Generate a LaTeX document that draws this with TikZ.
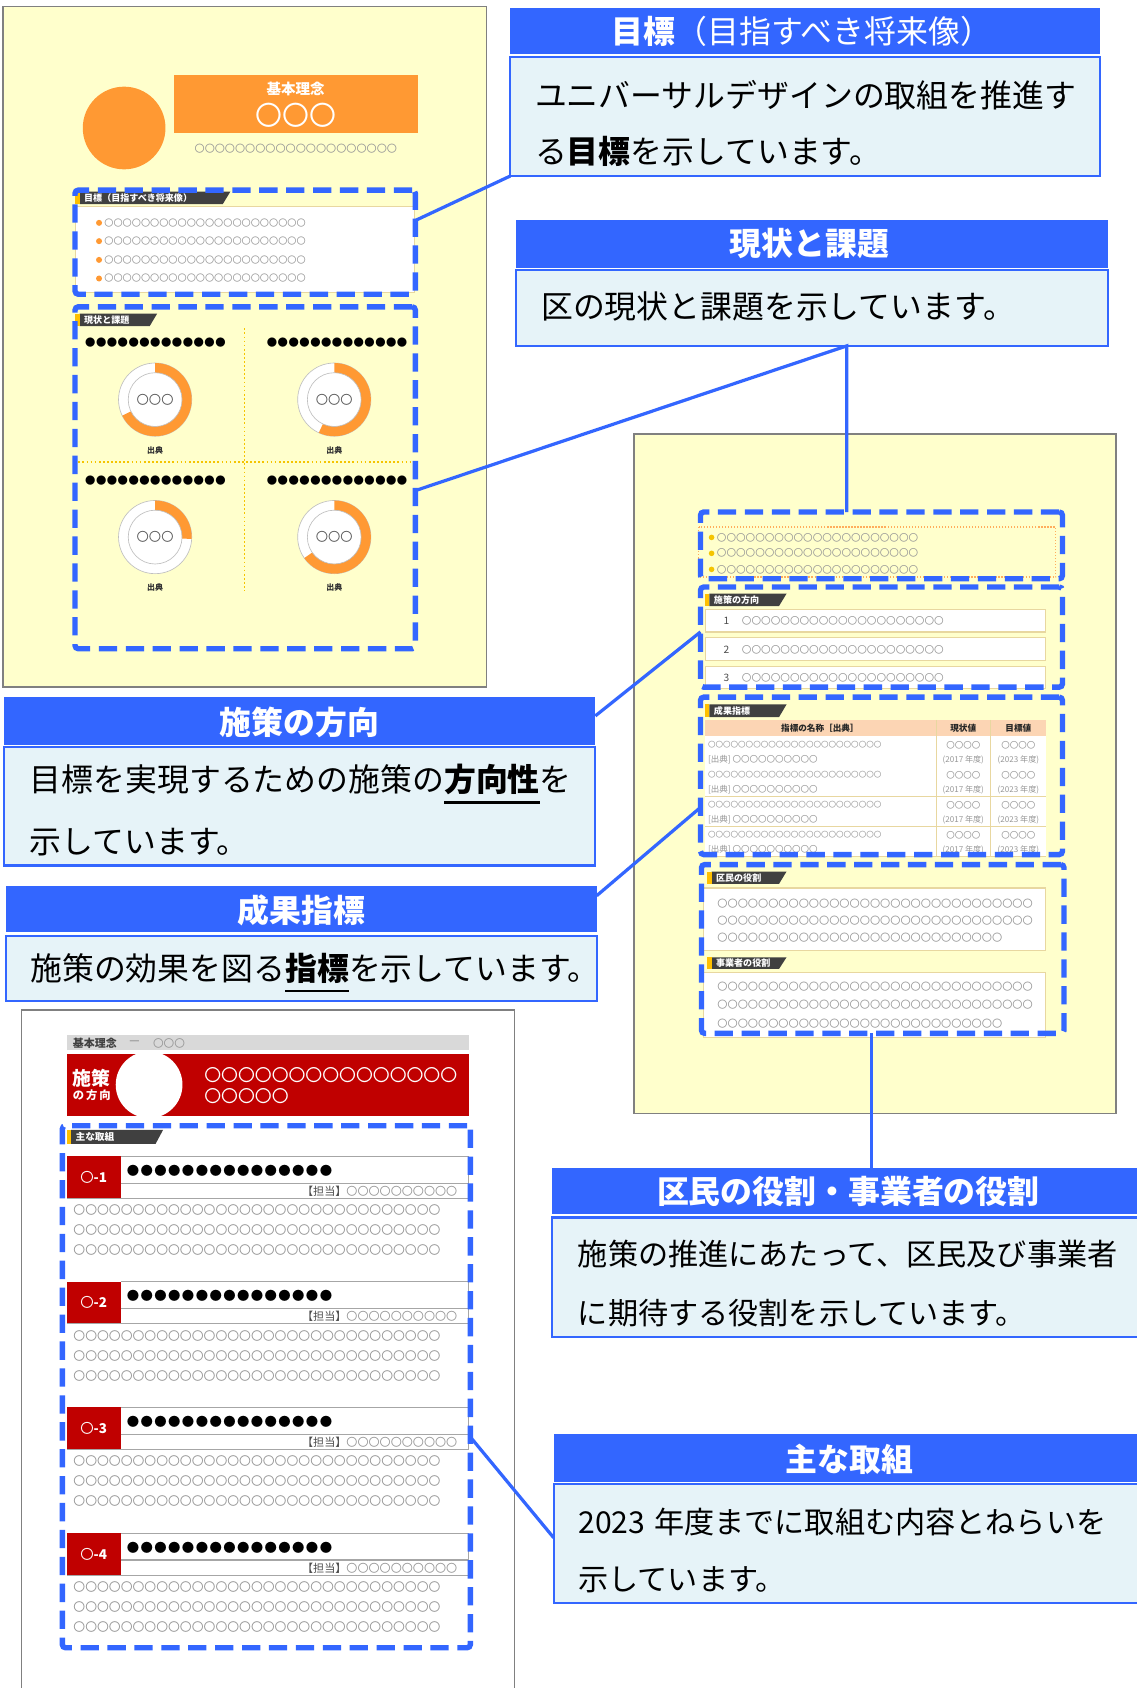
\documentclass[tikz,border=0pt]{standalone}
\usepackage{fontspec}
\setmainfont{Noto Sans CJK JP}
\usetikzlibrary{calc}
\definecolor{myblue}{RGB}{51,102,255}
\definecolor{bodyblue}{RGB}{230,243,248}
\definecolor{pageyel}{RGB}{255,255,204}
\definecolor{pagegray}{RGB}{128,128,128}
\definecolor{myorange}{RGB}{255,153,51}
\definecolor{myred}{RGB}{192,0,0}
\definecolor{tabdark}{RGB}{64,64,64}
\definecolor{tabyel}{RGB}{255,192,0}
\definecolor{tanline}{RGB}{232,215,160}
\definecolor{peach}{RGB}{252,213,180}
\definecolor{circgray}{RGB}{150,150,150}
\definecolor{bargray}{RGB}{217,217,217}
\definecolor{dotyel}{RGB}{245,196,0}
\newcount\myc
\newcommand\myrep[2]{\myc=#1\relax\loop\ifnum\myc>0 #2\advance\myc by -1\repeat}
\newcommand\fsz[1]{\fontsize{#1}{#1}\selectfont}
\newcommand\myul[1]{\setbox0\hbox{#1}\rlap{\rule[-11pt]{\wd0}{2pt}}\box0}
\newcommand\dotrow[3]{\myrep{#1}{\makebox[#2pt]{\fsz{#3}●}}}
\tikzset{
  rbox/.style={rectangle, inner sep=0, outer sep=0},
  pagebox/.style={rbox, fill=pageyel, draw=pagegray, line width=1.5},
  whitepage/.style={rbox, fill=white, draw=pagegray, line width=1.5},
  orangebox/.style={rbox, fill=myorange},
  dbox/.style={rbox, draw=myblue, line width=5, dash pattern=on 17pt off 8pt, rounded corners=3},
  hdr/.style={rbox, fill=myblue},
  bodybox/.style={rbox, fill=bodyblue, draw=myblue, line width=2},
  conn/.style={draw=myblue, line width=3},
  hdrtxt/.style={text=white, font=\fsz{29.6}\bfseries, inner sep=0},
  bodytxt/.style={text=black, font=\fsz{29.6}, inner sep=0, anchor=west},
  tabtxt/.style={text=white, font=\fsz{8.4}\bfseries, inner sep=0, anchor=west},
  circs/.style={text=circgray, inner sep=0, anchor=west},
  whitebox/.style={rbox, fill=white, draw=tanline, line width=1.2},
  dotline/.style={draw=dotyel, line width=1.6, dash pattern=on 1.6pt off 2.2pt},
}
\newcommand\bx[6]{\node[#2, minimum width={(#5)-(#3)}, minimum height={(#6)-(#4)}, anchor=north west] (#1) at (#3,#4) {};}
\newcommand\tabl[6]{%
  \fill[tabdark] ({#2+4},#3) -- (#4,#3) -- ({#4-7},#5) -- ({#2+4},#5) -- cycle;
  \fill[tabyel] (#2,#3) rectangle ({#2+4},#5);
  \node[tabtxt] (#1) at ({#2+8},{(#3+#5)/2}) {#6};}
\newcommand\donut[4]{%
  \coordinate (#1) at (#2,#3);
  \fill[white, draw=gray!50, line width=0.6] (#1) circle[radius=34];
  \fill[myorange] ($(#1)+(-90:34)$) arc[start angle=-90, end angle={-90+#4}, radius=34]
     -- ($(#1)+({-90+#4}:25)$) arc[start angle={-90+#4}, end angle=-90, radius=25] -- cycle;
  \draw[gray!50, line width=0.6] (#1) circle[radius=25];
  \node[text=black!65, font=\fsz{11.4}, inner sep=0] (#1t) at (#1) {〇〇〇};
  \node[text=black!80, font=\fsz{7.4}\bfseries, inner sep=0] (#1s) at (#2,{#3+47}) {出典};}
\begin{document}
\begin{tikzpicture}[x=1pt,y=-1pt]
\useasboundingbox (0,0) rectangle (1056,1568);
\clip (0,0) rectangle (1056,1568);
\fill[white] (0,0) rectangle (1056,1568);

% ===== top-left page =====
\bx{p1}{pagebox}{3}{6}{452}{638}
\node[circle, fill=myorange, minimum size=76.8, inner sep=0] (oc) at (115.3,118.9) {};
\bx{ko}{orangebox}{161.4}{70}{387.9}{123.6}
\node[text=white, font=\fsz{13.5}\bfseries, inner sep=0] (kt) at (274.6,83) {基本理念};
\node[text=white, font=\fsz{25}, inner sep=0] (kc) at (274.6,107.5) {〇〇〇};
\node[circs, font=\fsz{9.4}] (kl) at (180.6,137.9) {\myrep{20}{〇}};

\bx{w1}{whitebox}{70}{192}{385}{271.5}
\tabl{t1}{70}{178}{214}{189.5}{目標（目指すべき将来像）}
\foreach \yy [count=\i] in {207,224,241.4,258.7}{
  \fill[myorange] (92,\yy) circle[radius=2.8];
  \node[circs, font=\fsz{8.5}] (g\i) at (96.8,\yy) {\myrep{22}{〇}};
}
\bx{d1}{dbox}{69.7}{176.6}{385.8}{273.3}

\tabl{t2}{70}{291.3}{146}{303}{現状と課題}
\draw[dotline] (227.1,305) -- (227.1,548.4);
\draw[dotline] (69,429.2) -- (387,429.2);
\node[inner sep=0, anchor=west] (k1) at (78.7,318.2) {\dotrow{13}{10.07}{9.6}};
\node[inner sep=0, anchor=west] (k2) at (247.5,318.2) {\dotrow{13}{10.07}{9.6}};
\node[inner sep=0, anchor=west] (k3) at (78.7,446.2) {\dotrow{13}{10.07}{9.6}};
\node[inner sep=0, anchor=west] (k4) at (247.5,446.2) {\dotrow{13}{10.07}{9.6}};
\donut{dn1}{144.1}{371.2}{244}
\donut{dn2}{310.5}{371.2}{205}
\donut{dn3}{144.1}{498.9}{93}
\donut{dn4}{310.5}{498.9}{235}
\bx{d2}{dbox}{69.7}{285}{385.8}{602.6}

% ===== top-right boxes =====
\bx{h1}{hdr}{474}{7}{1022}{50.5}
\bx{b1}{bodybox}{474}{53}{1022}{163.5}
\node[hdrtxt] (h1t) at (745,29) {目標{\mdseries（目指すべき将来像）}};
\node[bodytxt] (b1a) at (496.8,88.3) {ユニバーサルデザインの取組を推進す};
\node[bodytxt] (b1b) at (496.8,141) {る\textbf{目標}を示しています。};

\bx{h2}{hdr}{479}{204.5}{1029}{248.8}
\bx{b2}{bodybox}{479}{251}{1029}{321.3}
\node[hdrtxt] (h2t) at (752,226.2) {現状と課題};
\node[bodytxt] (b2a) at (502.5,285) {区の現状と課題を示しています。};

% ===== right page =====
\bx{p2}{pagebox}{588.7}{403.4}{1036.4}{1034.3}
\draw[draw=myorange!80, line width=1.2, dash pattern=on 1.2pt off 1.6pt] (649,489.6) rectangle (980.7,536);
\foreach \yy [count=\i] in {499.2,514,528.9}{
  \fill[dotyel] (661,\yy) circle[radius=2.6];
  \node[circs, font=\fsz{8.9}] (ra\i) at (665.8,\yy) {\myrep{21}{〇}};
}
\bx{dA}{dbox}{650.7}{475.6}{986.9}{537.6}

\tabl{t3}{655}{551.5}{730.6}{563}{施策の方向}
\foreach \yy/\nn in {566/1,592.4/2,618.8/3}{
  \bx{rw\nn}{whitebox}{655.3}{\yy}{971.4}{\yy+21}
  \node[text=black!70, font=\fsz{9.5}, inner sep=0] (rn\nn) at (674.8,\yy+11) {\nn};
  \node[circs, font=\fsz{8.93}] (rc\nn) at (689,\yy+11) {\myrep{21}{〇}};
}
\bx{dB}{dbox}{650.7}{545.3}{986.9}{638.3}

\tabl{t4}{655}{654.4}{730.6}{666.2}{成果指標}
\bx{th}{rbox}{655.3}{668.6}{971.4}{684.1}
\fill[peach] (655.3,668.6) rectangle (971.4,684.1);
\node[font=\fsz{8}\bfseries, text=black!85, inner sep=0] (th1) at (761.6,676.4) {指標の名称［出典］};
\node[font=\fsz{8}\bfseries, text=black!85, inner sep=0] (th2) at (894.8,676.4) {現状値};
\node[font=\fsz{8}\bfseries, text=black!85, inner sep=0] (th3) at (946,676.4) {目標値};
\foreach \r [count=\i] in {684.1,712,739.9,767.8}{
  \fill[white] (655.3,\r) rectangle (971.4,\r+27.9);
  \draw[tanline, line width=0.8] (655.3,\r+27.9) -- (971.4,\r+27.9);
  \node[circs, font=\fsz{7}] (tra\i) at (657.5,\r+7.8) {\myrep{23}{〇}};
  \node[circs, font=\fsz{7.9}] (trb\i) at (657.5,\r+21.4) {[出典] \myrep{10}{〇}};
  \node[text=circgray, font=\fsz{7.9}, inner sep=0] (trc\i) at (894.8,\r+7.8) {〇〇〇〇};
  \node[text=circgray, font=\fsz{7.5}, inner sep=0] (trd\i) at (894.8,\r+21.4) {(2017 年度)};
  \node[text=circgray, font=\fsz{7.9}, inner sep=0] (tre\i) at (946,\r+7.8) {〇〇〇〇};
  \node[text=circgray, font=\fsz{7.5}, inner sep=0] (trf\i) at (946,\r+21.4) {(2023 年度)};
}
\draw[tanline, line width=0.8] (870,668.6) -- (870,795.7) (920.3,668.6) -- (920.3,795.7);
\bx{dC}{dbox}{650.7}{647.6}{986.9}{793.8}

\tabl{t5}{657}{809.6}{730.6}{821.1}{区民の役割}
\bx{wk}{whitebox}{653.2}{824.8}{971.4}{883.1}
\node[circs, font=\fsz{9.45}] (wk1) at (666.2,839.7) {\myrep{31}{〇}};
\node[circs, font=\fsz{9.45}] (wk2) at (666.2,855.5) {\myrep{31}{〇}};
\node[circs, font=\fsz{9.45}] (wk3) at (666.2,871.3) {\myrep{28}{〇}};
\tabl{t6}{657}{889.3}{730.6}{900.1}{事業者の役割}
\bx{wj}{whitebox}{653.2}{903.2}{971.4}{963.6}
\node[circs, font=\fsz{9.45}] (wj1) at (666.2,916.5) {\myrep{31}{〇}};
\node[circs, font=\fsz{9.45}] (wj2) at (666.2,933.5) {\myrep{31}{〇}};
\node[circs, font=\fsz{9.45}] (wj3) at (666.2,950.6) {\myrep{28}{〇}};
\bx{dD}{dbox}{651.6}{803.1}{988.4}{959.9}

% ===== left boxes =====
\bx{h4}{hdr}{3.7}{647.6}{553}{691.6}
\bx{b4}{bodybox}{3.7}{694}{553}{804}
\node[hdrtxt] (h4t) at (278.3,670.8) {施策の方向};
\node[bodytxt] (b4a) at (27.6,728.2) {目標を実現するための施策の\myul{\textbf{方向性}}を};
\node[bodytxt] (b4b) at (27.6,782.4) {示しています。};

\bx{h5}{hdr}{5.5}{822.7}{554.3}{866}
\bx{b5}{bodybox}{5.5}{869.1}{554.3}{929.5}
\node[hdrtxt] (h5t) at (280,845.9) {成果指標};
\node[bodytxt] (b5a) at (28,903.2) {施策の効果を図る\myul{\textbf{指標}}を示しています。};

% ===== bottom-left page =====
\bx{p3}{whitepage}{20.1}{938}{477.8}{1590}
\fill[bargray] (62,961) rectangle (436,975.4);
\node[font=\fsz{10.2}\bfseries, text=black!75, inner sep=0, anchor=west] (bt1) at (67.6,968.9) {基本理念};
\node[font=\fsz{10}, text=black!75, inner sep=0] (bt2) at (125,968.9) {―};
\node[circs, font=\fsz{9.9}] (bt3) at (142,968.9) {〇〇〇};
\bx{rb}{rbox}{62}{979}{436}{1036.5}
\fill[myred] (62,979) rectangle (436,1036.5);
\begin{scope}
  \clip (62,979) rectangle (436,1036.5);
  \fill[white] (138.5,1007.6) circle[radius=31];
\end{scope}
\node[font=\fsz{17.5}\bfseries, text=white, inner sep=0, anchor=west] (rt1) at (67.5,1001.5) {施策};
\node[font=\fsz{10.5}\bfseries, text=white, inner sep=0, anchor=west] (rt2) at (67.5,1017.5) {の\,方\,向};
\node[font=\fsz{15.66}, text=white, inner sep=0, anchor=west] (rt3) at (189.6,998.6) {\myrep{15}{〇}};
\node[font=\fsz{15.66}, text=white, inner sep=0, anchor=west] (rt4) at (189.6,1018.5) {\myrep{5}{〇}};

\tabl{t7}{62}{1049.5}{151.5}{1062.6}{\fsz{9}主な取組}
\foreach \T [count=\i] in {1074,1190.7,1307.4,1424.1}{
  \fill[myred] (62,\T) rectangle (112,\T+39);
  \node[font=\fsz{12.5}\bfseries, text=white, inner sep=0] (it\i) at (87,\T+19.5) {{\mdseries 〇}-\i};
  \draw[gray!70, line width=1] (112,\T) -- (435,\T) -- (435,\T+39) -- (62,\T+39) (112,\T+25) -- (435,\T+25);
  \node[inner sep=0, anchor=west] (id\i) at (117,\T+13.3) {\dotrow{15}{12.8}{11.5}};
  \node[circs, font=\fsz{10.3}, anchor=east] (ic\i) at (425,\T+32.4) {\textcolor{black!70}{【担当】}\myrep{10}{〇}};
  \node[circs, font=\fsz{11}] (ia\i) at (68,\T+50) {\myrep{31}{〇}};
  \node[circs, font=\fsz{11}] (ib\i) at (68,\T+68.7) {\myrep{31}{〇}};
  \node[circs, font=\fsz{11}] (ie\i) at (68,\T+87.3) {\myrep{31}{〇}};
}
\bx{dE}{dbox}{57.9}{1045.7}{436.9}{1530.6}

% ===== bottom-right boxes =====
\bx{h3}{hdr}{513}{1084.5}{1063}{1127.9}
\bx{b3}{bodybox}{513}{1131}{1063}{1241.6}
\node[hdrtxt] (h3t) at (788,1106.8) {区民の役割・事業者の役割};
\node[bodytxt, font=\fsz{28}] (b3a) at (536.6,1165) {施策の推進にあたって、区民及び事業者};
\node[bodytxt, font=\fsz{28}] (b3b) at (536.6,1219.3) {に期待する役割を示しています。};

\bx{h6}{hdr}{514.3}{1332.3}{1063}{1376.3}
\bx{b6}{bodybox}{514.3}{1378.8}{1063}{1488.8}
\node[hdrtxt] (h6t) at (789,1355.6) {主な取組};
\node[bodytxt, font=\fsz{28}] (b6a) at (537,1413.5) {2023\hspace{0.3em}年度までに取組む内容とねらいを};
\node[bodytxt, font=\fsz{28}] (b6b) at (537,1467.1) {示しています。};

% ===== connectors =====
\coordinate (c1) at (386.5,204.5);
\draw[conn] (c1) -- (b1.south west);
\coordinate (c2) at (386.5,455.5);
\coordinate (c2b) at (786.5,321.3);
\coordinate (c2c) at (786.5,475.6);
\draw[conn] (c2) -- (c2b) -- (c2c);
\coordinate (c3) at (553,665);
\coordinate (c3b) at (650.7,587);
\draw[conn] (c3) -- (c3b);
\coordinate (c4) at (554.3,832);
\coordinate (c4b) at (650.7,750);
\draw[conn] (c4) -- (c4b);
\coordinate (c5) at (809.3,959.9);
\coordinate (c5b) at (809.3,1084.5);
\draw[conn] (c5) -- (c5b);
\coordinate (c6) at (436.9,1334.8);
\coordinate (c6b) at (514.3,1428.4);
\draw[conn] (c6) -- (c6b);
\end{tikzpicture}
\end{document}
